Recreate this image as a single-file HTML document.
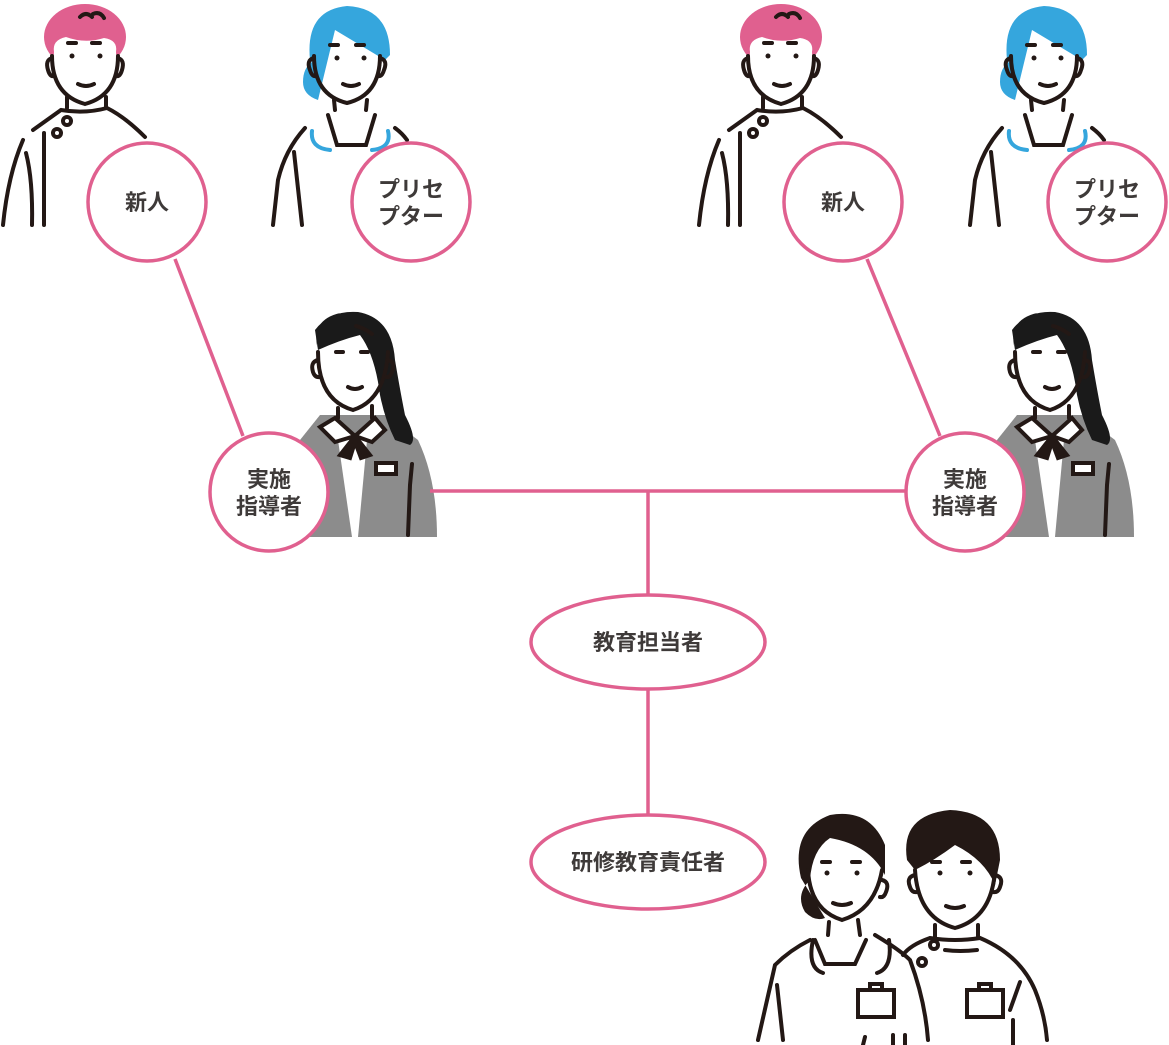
<!DOCTYPE html>
<html><head><meta charset="utf-8"><style>
html,body{margin:0;padding:0;background:#fff;}
svg{display:block}
text{font-family:"Liberation Sans","Noto Sans CJK JP",sans-serif;font-weight:bold;fill:#3e3a39;}
</style></head><body>
<svg width="1169" height="1045" viewBox="0 0 1169 1045" xmlns="http://www.w3.org/2000/svg">
<defs>
<g id="man" fill="none" stroke="#231815" stroke-width="4" stroke-linecap="round">
  <ellipse cx="85" cy="37" rx="41" ry="33" fill="#e0608f" stroke="none"/>
  <path d="M54,52 Q52,40 66,37 Q85,44 104,38 Q118,40 116,52 L118,80 Q112,102 85,104 Q58,102 52,80 Z" fill="#fff" stroke="none"/>
  <path d="M52,56 Q52,95 85,104 Q118,95 118,56"/>
  <path d="M52,58 Q45,60 48,70 Q50,77 54,76 M118,58 Q125,60 122,70 Q120,77 116,76"/>
  <path d="M80,17 Q86,11 92,17 M93,14 Q100,11 104,18"/>
  <path d="M68,43 L76,43 M92,43 L100,43"/>
  <circle cx="72" cy="56" r="2.5" fill="#231815" stroke="none"/><circle cx="100" cy="56" r="2.5" fill="#231815" stroke="none"/>
  <path d="M78,84 Q86,88 94,84"/>
  <path d="M67,97 L67,108 M106,97 L106,108"/>
  <path d="M61,110 Q85,114 107,108 Q125,117 145,137 M61,110 L33,130"/>
  <circle cx="67" cy="121" r="4"/><circle cx="57" cy="133" r="4"/>
  <path d="M23,140 Q8,175 3,225 M26,153 Q33,180 32,225 M44,133 L44,225"/>
</g>
<g id="nurse" fill="none" stroke="#231815" stroke-width="4" stroke-linecap="round">
  <path d="M310,60 Q305,10 347,6 Q390,8 390,55 L385,60 Q360,45 335,30 L318,100 Q303,95 303,82 Q303,68 312,62 Z" fill="#35a6dd" stroke="none"/>
  <path d="M314,56 Q314,95 347,103 Q380,95 380,56"/>
  <path d="M314,58 Q306,60 310,70 Q312,77 316,76 M380,58 Q388,60 384,70 Q382,77 378,76"/>
  <path d="M330,45 L338,45 M356,45 L364,45"/>
  <circle cx="337" cy="58" r="2.5" fill="#231815" stroke="none"/><circle cx="364" cy="58" r="2.5" fill="#231815" stroke="none"/>
  <path d="M343,84 Q351,88 359,84"/>
  <path d="M334,100 L335,110 M367,100 L366,110"/>
  <path d="M328,115 L337,145 L366,145 L375,115"/>
  <path d="M312,131 Q310,148 330,150 M388,131 Q392,148 372,150" stroke="#35a6dd"/>
  <path d="M305,128 Q285,150 278,180 L273,225 M294,152 L302,225 M395,128 Q402,133 407,140"/>
</g>
<g id="inst" stroke-linecap="round">
  <path d="M300,440 L320,415 L385,415 L418,440 Q437,480 437,537 L300,537 Z" fill="#8c8c8c"/>
  <path d="M338,440 L352,537 L358,537 L367,440 Z" fill="#fff"/>
  <path d="M315,330 Q330,310 358,312 Q392,318 395,360 Q400,390 405,415 Q418,440 410,445 L395,440 Q385,420 380,395 Q375,355 360,335 Q340,340 318,350 Z" fill="#1a1a1a"/>
  <path d="M318,350 Q310,320 340,313 Q312,330 318,350Z" fill="#1a1a1a"/>
  <g fill="none" stroke="#231815" stroke-width="4">
  <path d="M318,352 Q318,400 353,410 Q385,400 388,352"/>
  <path d="M318,360 Q310,362 313,372 Q315,378 320,377 M388,360 Q396,362 392,372 Q390,378 386,377"/>
  <path d="M336,352 L343,352 M361,352 L368,352"/>
  <path d="M356,326 Q364,328 372,334"/>
  <path d="M348,387 Q355,391 362,387"/>
  <path d="M338,408 L338,418 M372,406 L372,418"/>
  <path d="M320,427 L335,418 L355,436 L375,418 L385,430 L372,442 L355,436 L335,442 Z" fill="#fff"/>
  <path d="M355,436 L340,455 L350,458 L355,442 L361,458 L370,455 Z" fill="#231815"/>
  <rect x="376" y="463" width="20" height="11" fill="#fff"/>
  <path d="M412,464 L410,485 L408,535"/>
  </g>
</g>
</defs>

<use href="#man"/>
<use href="#man" x="696"/>
<use href="#nurse"/>
<use href="#nurse" x="697"/>
<use href="#inst"/>
<use href="#inst" x="697"/>

<!-- bottom pair -->
<g fill="none" stroke="#231815" stroke-width="4" stroke-linecap="round">
  <path d="M801,878 Q790,830 830,815 Q870,808 885,845 L885,875 Q870,845 830,838 Q812,850 810,880 Q795,895 805,912 Q815,922 825,918 Z" fill="#231815" stroke="none"/>
  <path d="M808,870 Q810,910 842,920 Q875,910 882,870"/>
  <path d="M882,880 Q890,882 886,892 Q884,898 880,897"/>
  <path d="M822,862 L830,862 M852,862 L860,862"/>
  <circle cx="827" cy="873" r="2.5" fill="#231815" stroke="none"/><circle cx="857" cy="873" r="2.5" fill="#231815" stroke="none"/>
  <path d="M833,903 Q842,907 851,903"/>
  <path d="M829,922 L828,935 M858,920 L860,935"/>
  <path d="M813,940 Q807,968 823,973 M889,940 Q893,968 877,973 M815,940 L825,964 L855,964 L866,940"/>
  <path d="M810,940 Q790,950 775,965 L758,1040 M777,985 L783,1040 M875,935 Q900,950 910,960 Q925,1000 928,1040"/>
  <rect x="858" y="990" width="36" height="27"/><path d="M870,990 L870,984 L882,984 L882,990"/>
  <path d="M865,1037 L863,1045 M893,1035 L893,1045 M905,1035 L905,1045"/>

  <path d="M907,860 Q900,815 950,810 Q1000,812 1000,860 L995,885 Q985,860 955,845 Q935,860 915,870 Z" fill="#231815" stroke="none"/>
  <path d="M915,870 Q918,918 955,928 Q992,918 995,870"/>
  <path d="M915,875 Q906,877 910,887 Q912,893 917,892 M995,875 Q1004,877 1000,887 Q998,893 993,892"/>
  <path d="M932,862 L940,862 M962,862 L970,862"/>
  <circle cx="940" cy="873" r="2.5" fill="#231815" stroke="none"/><circle cx="970" cy="873" r="2.5" fill="#231815" stroke="none"/>
  <path d="M946,906 Q955,910 964,906"/>
  <path d="M935,925 L935,938 M978,925 L978,938"/>
  <path d="M930,938 Q955,942 980,938 Q1020,955 1035,990 Q1045,1015 1047,1040 M930,938 Q910,945 903,955"/>
  <path d="M945,950 Q960,952 977,950"/>
  <circle cx="934" cy="945" r="4"/><circle cx="922" cy="962" r="4"/>
  <rect x="967" y="990" width="36" height="27"/><path d="M979,990 L979,984 L991,984 L991,990"/>
  <path d="M1020,982 L1010,1010 M1013,1020 L1013,1045"/>
</g>

<!-- connectors -->
<g stroke="#e0608f" stroke-width="3.5" fill="none">
  <line x1="175" y1="259" x2="243" y2="436"/>
  <line x1="867" y1="259" x2="940" y2="436"/>
  <line x1="430" y1="491" x2="906" y2="491"/>
  <line x1="648" y1="491" x2="648" y2="596"/>
  <line x1="648" y1="690" x2="648" y2="815"/>
</g>
<g stroke="#e0608f" stroke-width="3.5" fill="#fff">
  <circle cx="147" cy="202" r="59"/>
  <circle cx="411" cy="202" r="59"/>
  <circle cx="843" cy="202" r="59"/>
  <circle cx="1107" cy="202" r="59"/>
  <circle cx="269" cy="492" r="59"/>
  <circle cx="965" cy="492" r="59"/>
  <ellipse cx="648" cy="642" rx="117" ry="47"/>
  <ellipse cx="648" cy="862" rx="117" ry="47"/>
</g>
<g font-size="22" text-anchor="middle">
  <text x="147" y="210">新人</text>
  <text x="843" y="210">新人</text>
  <text x="411" y="197">プリセ</text><text x="411" y="224">プター</text>
  <text x="1107" y="197">プリセ</text><text x="1107" y="224">プター</text>
  <text x="269" y="487">実施</text><text x="269" y="514">指導者</text>
  <text x="965" y="487">実施</text><text x="965" y="514">指導者</text>
  <text x="648" y="650">教育担当者</text>
  <text x="648" y="870">研修教育責任者</text>
</g>
</svg>
</body></html>
